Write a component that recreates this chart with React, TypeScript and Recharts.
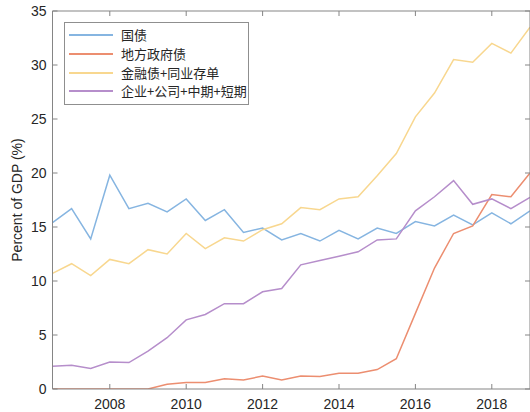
import { Legend, Line, LineChart, XAxis, YAxis } from 'recharts'

// half-year observations, mid-2006 to 2019
const YEARS = [
  2006.5, 2007, 2007.5, 2008, 2008.5, 2009, 2009.5, 2010, 2010.5, 2011, 2011.5, 2012, 2012.5,
  2013, 2013.5, 2014, 2014.5, 2015, 2015.5, 2016, 2016.5, 2017, 2017.5, 2018, 2018.5, 2019,
]

const GUOZHAI = [
  15.4, 16.7, 13.9, 19.8, 16.7, 17.2, 16.4, 17.6, 15.6, 16.6, 14.5, 14.9, 13.8,
  14.4, 13.7, 14.7, 13.9, 14.9, 14.4, 15.5, 15.1, 16.1, 15.2, 16.3, 15.3, 16.5,
]
const DIFANG = [
  0, 0, 0, 0, 0, 0, 0.43, 0.6, 0.6, 0.95, 0.83, 1.2, 0.83,
  1.2, 1.15, 1.45, 1.45, 1.8, 2.8, 7.0, 11.2, 14.4, 15.1, 18.0, 17.8, 20.0,
]
const JINRONG = [
  10.7, 11.6, 10.5, 12.0, 11.6, 12.9, 12.5, 14.4, 13.0, 14.0, 13.7, 14.75, 15.3,
  16.8, 16.6, 17.6, 17.8, 19.75, 21.8, 25.2, 27.4, 30.5, 30.25, 32.0, 31.1, 33.5,
]
const QIYE = [
  2.1, 2.2, 1.9, 2.5, 2.45, 3.5, 4.75, 6.4, 6.9, 7.9, 7.9, 9.0, 9.3,
  11.5, 11.9, 12.3, 12.7, 13.8, 13.9, 16.5, 17.8, 19.3, 17.1, 17.6, 16.7, 17.75,
]

const SERIES = [
  { key: 'guozhai', name: '国债', color: '#86b5e1' },
  { key: 'difang', name: '地方政府债', color: '#ec8e70' },
  { key: 'jinrong', name: '金融债+同业存单', color: '#f8d78f' },
  { key: 'qiye', name: '企业+公司+中期+短期', color: '#b68ecb' },
]

const X_TICKS = [2008, 2010, 2012, 2014, 2016, 2018]
const Y_TICKS = [0, 5, 10, 15, 20, 25, 30, 35]
const X_DOMAIN: [number, number] = [2006.5, 2019]
const Y_DOMAIN: [number, number] = [0, 35]

const data = YEARS.map((year, i) => ({
  year,
  guozhai: GUOZHAI[i],
  difang: DIFANG[i],
  jinrong: JINRONG[i],
  qiye: QIYE[i],
}))

const AXIS = '#858585'
const TEXT = '#262626'
const blankTick = () => <g />

function LegendBox() {
  return (
    <div
      style={{
        border: '1px solid #8f8f8f',
        background: '#fff',
        width: 183,
        padding: '3px 0 3px 0',
        fontFamily: '"Noto Sans CJK SC", sans-serif',
        fontSize: 13,
        color: TEXT,
      }}
    >
      {SERIES.map((s) => (
        <div key={s.key} style={{ display: 'flex', alignItems: 'center', height: 18.7 }}>
          <svg width={52} height={4} style={{ marginLeft: 4 }}>
            <line x1={0} x2={44} y1={2} y2={2} stroke={s.color} strokeWidth={2} />
          </svg>
          <span style={{ lineHeight: '18px' }}>{s.name}</span>
        </div>
      ))}
    </div>
  )
}

export default function App() {
  return (
    <div
      style={{
        position: 'absolute',
        left: 0,
        top: 0,
        width: 530,
        height: 412,
        background: '#fff',
        fontFamily: '"Liberation Sans", Arial, sans-serif',
      }}
    >
      <LineChart width={530} height={412} data={data} margin={{ top: 11, right: 0, bottom: 0, left: 0 }}>
        {/* labelled axes */}
        <XAxis
          xAxisId="b"
          dataKey="year"
          type="number"
          domain={X_DOMAIN}
          ticks={X_TICKS}
          interval={0}
          allowDataOverflow
          height={23}
          axisLine={{ stroke: AXIS }}
          tickLine={false}
          tickSize={4}
          tickMargin={6}
          tick={{ fill: TEXT, fontSize: 14 }}
        />
        <YAxis
          yAxisId="l"
          type="number"
          domain={Y_DOMAIN}
          ticks={Y_TICKS}
          interval={0}
          allowDataOverflow
          width={52.5}
          axisLine={{ stroke: AXIS }}
          tickLine={false}
          tickSize={3}
          tickMargin={3}
          tick={{ fill: TEXT, fontSize: 14 }}
          label={{
            value: 'Percent of GDP (%)',
            angle: -90,
            position: 'insideLeft',
            offset: 17,
            style: { textAnchor: 'middle', fill: TEXT, fontSize: 14 },
          }}
        />

        {/* inward tick marks and the box */}
        <XAxis
          xAxisId="bm"
          dataKey="year"
          type="number"
          domain={X_DOMAIN}
          ticks={X_TICKS}
          interval={0}
          allowDataOverflow
          mirror
          axisLine={false}
          tickLine={{ stroke: AXIS }}
          tickSize={5}
          tick={blankTick}
        />
        <XAxis
          xAxisId="t"
          orientation="top"
          dataKey="year"
          type="number"
          domain={X_DOMAIN}
          ticks={X_TICKS}
          interval={0}
          allowDataOverflow
          mirror
          axisLine={{ stroke: AXIS }}
          tickLine={{ stroke: AXIS }}
          tickSize={5}
          tick={blankTick}
        />
        <YAxis
          yAxisId="lm"
          type="number"
          domain={Y_DOMAIN}
          ticks={Y_TICKS}
          interval={0}
          allowDataOverflow
          mirror
          axisLine={false}
          tickLine={{ stroke: AXIS }}
          tickSize={5}
          tick={blankTick}
        />
        <YAxis
          yAxisId="r"
          orientation="right"
          type="number"
          domain={Y_DOMAIN}
          ticks={Y_TICKS}
          interval={0}
          allowDataOverflow
          mirror
          axisLine={{ stroke: AXIS }}
          tickLine={{ stroke: AXIS }}
          tickSize={5}
          tick={blankTick}
        />

        <Legend
          layout="vertical"
          align="center"
          verticalAlign="middle"
          content={() => <LegendBox />}
          wrapperStyle={{ left: 64, top: 22, width: 'auto', height: 'auto' }}
        />

        {SERIES.map((s) => (
          <Line
            key={s.key}
            xAxisId="b"
            yAxisId="l"
            type="linear"
            dataKey={s.key}
            name={s.name}
            stroke={s.color}
            strokeWidth={1.5}
            dot={false}
            activeDot={false}
            isAnimationActive={false}
          />
        ))}
      </LineChart>
    </div>
  )
}
